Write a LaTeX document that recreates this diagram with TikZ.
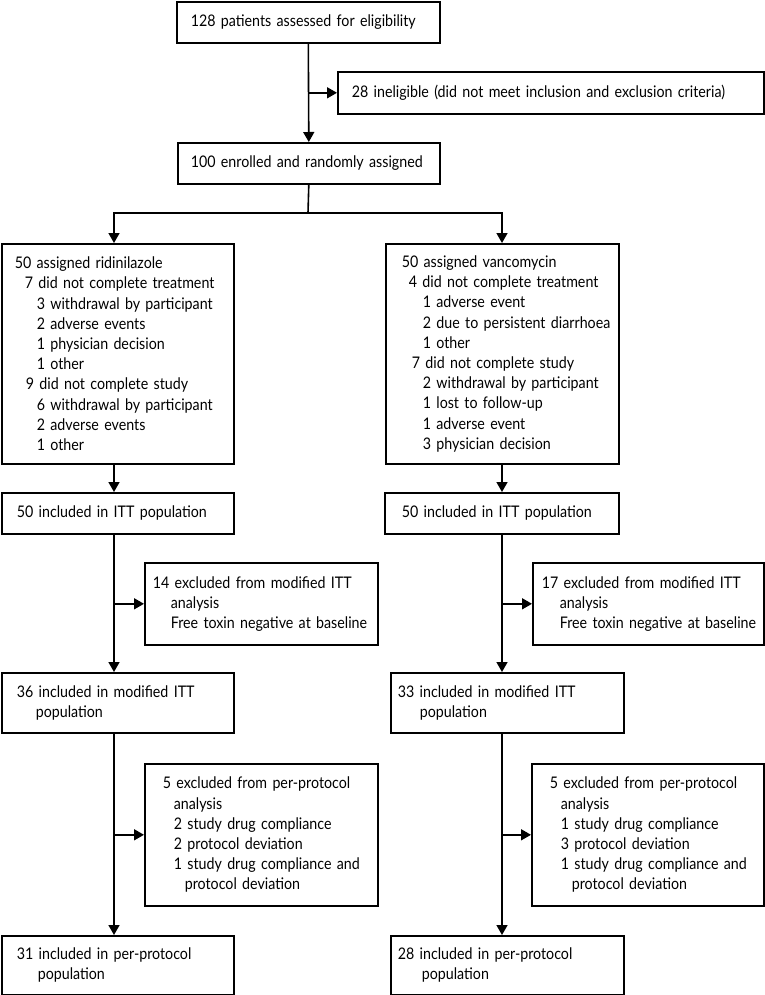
\documentclass[tikz,border=0pt]{standalone}
\usepackage{fontspec}
\setmainfont[FakeStretch=0.89]{Lato}
\usetikzlibrary{arrows.meta}
\newcommand{\ind}[1]{\hspace*{#1pt}}
\newcommand{\boxfont}{\fontsize{16}{20.2}\selectfont\hyphenpenalty=10000\relax\exhyphenpenalty=10000\relax}
\begin{document}
\begin{tikzpicture}[x=1pt,y=-1pt,
  box/.style={draw, line width=1.6pt, anchor=north west, align=left, inner ysep=0pt, inner xsep=4pt,
              font=\boxfont},
  arr/.style={line width=1.6pt, -{Triangle[length=10pt,width=11pt]}},
  ln/.style={line width=1.6pt}]
\useasboundingbox (0,0) rectangle (764,995);

% top
\node[box, minimum width=263pt, minimum height=41pt, text width=255pt] (b1) at (176,1) {\ind{10}128 patients assessed for eligibility};
\node[box, minimum width=426pt, minimum height=42pt, text width=418pt] (inel) at (337,71) {\ind{10}28 ineligible (did not meet inclusion and exclusion criteria)};
\node[box, minimum width=262pt, minimum height=41pt, text width=254pt] (enr) at (177,142) {\ind{9}100 enrolled and randomly assigned};

% assignment boxes
\node[box, minimum width=232pt, minimum height=220pt, text width=224pt] (L0) at (1,243) {\ind{9}50 assigned ridinilazole\\
\ind{19}7 did not complete treatment\\
\ind{31}3 withdrawal by participant\\
\ind{31}2 adverse events\\
\ind{31}1 physician decision\\
\ind{31}1 other\\
\ind{20}9 did not complete study\\
\ind{31}6 withdrawal by participant\\
\ind{31}2 adverse events\\
\ind{31}1 other};
\node[box, minimum width=233pt, minimum height=220pt, text width=225pt] (R0) at (385,243) {\ind{12}50 assigned vancomycin\\
\ind{19}4 did not complete treatment\\
\ind{33}1 adverse event\\
\ind{33}2 due to persistent diarrhoea\\
\ind{33}1 other\\
\ind{22}7 did not complete study\\
\ind{33}2 withdrawal by participant\\
\ind{33}1 lost to follow-up\\
\ind{33}1 adverse event\\
\ind{33}3 physician decision};

% ITT
\node[box, minimum width=232pt, minimum height=41pt, text width=224pt] (L1) at (1,492) {\ind{11}50 included in ITT population};
\node[box, minimum width=234pt, minimum height=41pt, text width=226pt] (R1) at (384,492) {\ind{13}50 included in ITT population};

\node[box, minimum width=233pt, minimum height=82pt, text width=225pt] (LE1) at (144,562) {\ind{4}14 excluded from modified ITT\\
\ind{22}analysis\\
\ind{22}Free toxin negative at baseline};
\node[box, minimum width=231pt, minimum height=82pt, text width=223pt] (RE1) at (532,562) {\ind{5}17 excluded from modified ITT\\
\ind{23}analysis\\
\ind{23}Free toxin negative at baseline};

% modified ITT
\node[box, minimum width=232pt, minimum height=60pt, text width=224pt] (L2) at (1,672) {\ind{11}36 included in modified ITT\\
\ind{30}population};
\node[box, minimum width=233pt, minimum height=60pt, text width=225pt] (R2) at (390,672) {\ind{3}33 included in modified ITT\\
\ind{25}population};

\node[box, minimum width=233pt, minimum height=142pt, text width=225pt] (LE2) at (144,763) {\ind{14}5 excluded from per-protocol\\
\ind{25}analysis\\
\ind{25}2 study drug compliance\\
\ind{25}2 protocol deviation\\
\ind{25}1 study drug compliance and\\
\ind{36}protocol deviation};
\node[box, minimum width=232pt, minimum height=142pt, text width=224pt] (RE2) at (531,763) {\ind{14}5 excluded from per-protocol\\
\ind{25}analysis\\
\ind{25}1 study drug compliance\\
\ind{25}3 protocol deviation\\
\ind{25}1 study drug compliance and\\
\ind{36}protocol deviation};

% per-protocol
\node[box, minimum width=232pt, minimum height=59pt, text width=224pt] (L3) at (1,935) {\ind{11}31 included in per-protocol\\
\ind{32}population};
\node[box, minimum width=233pt, minimum height=59pt, text width=225pt] (R3) at (390,935) {\ind{3}28 included in per-protocol\\
\ind{27}population};

% connectors
\coordinate (cl) at (114,0);
\coordinate (cr) at (502,0);
\coordinate (split) at (308,213);
\draw[arr] (b1.south) -- (enr.north);
\draw[arr] (b1.south |- inel.west) -- (inel.west);
\draw[ln] (enr.south) -- (split);
\draw[arr] (split) -| (L0.north -| cl);
\draw[arr] (split) -| (R0.north -| cr);
\draw[arr] (L0.south -| cl) -- (L1.north -| cl);
\draw[arr] (R0.south -| cr) -- (R1.north -| cr);
\draw[arr] (L1.south -| cl) -- (L2.north -| cl);
\draw[arr] (R1.south -| cr) -- (R2.north -| cr);
\draw[arr] (LE1.west -| cl) -- (LE1.west);
\draw[arr] (RE1.west -| cr) -- (RE1.west);
\draw[arr] (L2.south -| cl) -- (L3.north -| cl);
\draw[arr] (R2.south -| cr) -- (R3.north -| cr);
\draw[arr] (LE2.west -| cl) -- (LE2.west);
\draw[arr] (RE2.west -| cr) -- (RE2.west);
\end{tikzpicture}
\end{document}
